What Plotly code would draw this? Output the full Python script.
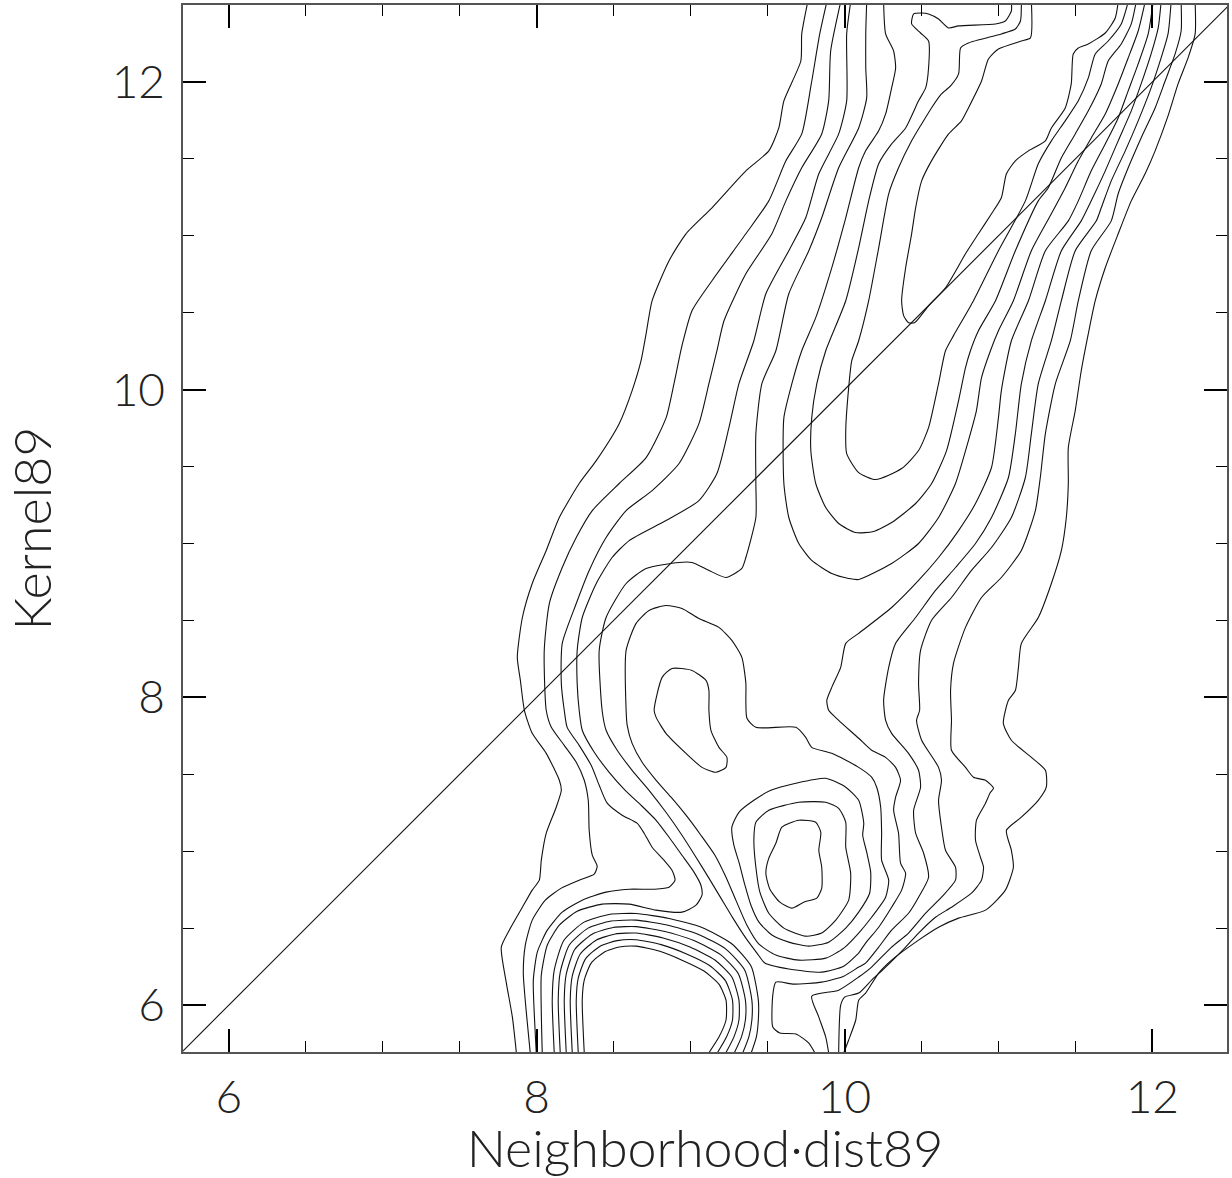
import plotly.graph_objects as go

X_RANGE = [5.702, 12.485]
Y_RANGE = [5.695, 12.50]
MAJOR_TICKS = [6, 8, 10, 12]
X_TITLE = "Neighborhood·dist89"
Y_TITLE = "Kernel89"
DIAGONAL = [5.5, 12.7]

# contour polylines, (x, y) in data units
L1_LEFT = [(7.868,5.69),(7.842,5.922),(7.803,6.143),(7.770,6.377),(7.822,6.487),(7.907,6.636),(7.971,6.747),
           (8.017,6.812),(8.030,6.942),(8.062,7.117),(8.127,7.286),(8.160,7.396),(8.147,7.461),(8.062,7.636),
           (7.971,7.766),(7.920,7.916),(7.894,8.110),(7.874,8.260),(7.907,8.519),(7.971,8.740),(8.062,8.955),
           (8.147,9.169),(8.276,9.390),(8.387,9.539),(8.536,9.779),(8.620,9.994),(8.678,10.188),(8.711,10.364),
           (8.750,10.578),(8.860,10.838),(8.970,11.013),(9.139,11.182),(9.359,11.422),(9.508,11.552),
           (9.573,11.701),(9.606,11.877),(9.716,12.136),(9.722,12.312),(9.761,12.52)]
L1_RIGHT = [(12.278,12.52),(12.278,12.312),(12.232,12.156),(12.167,11.987),(12.102,11.779),(12.018,11.552),
            (11.953,11.403),(11.863,11.227),(11.778,11.013),(11.694,10.792),(11.629,10.578),(11.584,10.364),
            (11.538,10.123),(11.499,9.864),(11.454,9.623),(11.454,9.390),(11.441,9.169),(11.409,8.955),
            (11.344,8.740),(11.259,8.519),(11.149,8.351),(11.130,8.195),(11.110,8.045),(11.065,7.981),
            (11.032,7.831),(11.084,7.721),(11.214,7.610),(11.305,7.526),(11.311,7.416),(11.259,7.331),
            (11.149,7.221),(11.052,7.136),(11.084,7.006),(11.097,6.896),(11.045,6.747),(10.916,6.617),
            (10.741,6.565),(10.611,6.506),(10.481,6.422),(10.306,6.292),(10.222,6.208),(10.137,6.078),
            (10.092,6.032),(10.073,5.903),(10.027,5.773),(9.995,5.69)]
L2_LEFT = [(9.885,12.52),(9.839,12.312),(9.784,11.987),(9.722,11.662),(9.619,11.487),(9.508,11.227),
           (9.359,11.013),(9.139,10.708),(9.009,10.513),(8.944,10.286),(8.892,10.039),(8.841,9.818),
           (8.711,9.558),(8.536,9.390),(8.361,9.214),(8.257,9.039),(8.166,8.844),(8.082,8.610),(8.049,8.305),
           (8.062,7.916),(8.095,7.805),(8.179,7.688),(8.257,7.578),(8.309,7.461),(8.335,7.331),(8.341,7.136),
           (8.361,6.974),(8.393,6.903),(8.374,6.851),(8.276,6.812),(8.160,6.760),(8.056,6.682),(7.971,6.552),
           (7.926,6.390),(7.913,6.208),(7.933,5.948),(7.958,5.69)]
L3_LEFT = [(9.975,12.52),(9.910,12.201),(9.897,11.877),(9.852,11.662),(9.722,11.442),(9.619,11.227),
           (9.528,11.013),(9.359,10.753),(9.217,10.448),(9.171,10.253),(9.119,10.039),(9.054,9.779),
           (8.925,9.520),(8.750,9.344),(8.581,9.214),(8.451,9.039),(8.341,8.825),(8.257,8.610),(8.166,8.351),
           (8.160,8.091),(8.179,7.916),(8.198,7.805),(8.276,7.688),(8.354,7.558),(8.406,7.429),(8.458,7.312),
           (8.555,7.234),(8.652,7.182),(8.698,7.117),(8.750,7.026),(8.827,6.942),(8.879,6.877),(8.899,6.812),
           (8.860,6.766),(8.763,6.753),(8.601,6.753),(8.451,6.734),(8.296,6.682),(8.166,6.604),(8.069,6.487),
           (8.004,6.344),(7.978,6.162),(7.984,5.948),(7.997,5.69)]
L4_LEFT = [(10.040,12.52),(10.014,12.312),(10.014,11.877),(9.962,11.662),(9.833,11.403),(9.748,11.117),
           (9.638,10.903),(9.489,10.623),(9.411,10.318),(9.314,10.039),(9.249,9.753),(9.171,9.455),
           (9.054,9.279),(8.840,9.149),(8.601,9.019),(8.490,8.909),(8.387,8.740),(8.296,8.519),(8.263,8.305),
           (8.263,8.091),(8.276,7.916),(8.296,7.786),(8.374,7.643),(8.471,7.513),(8.575,7.396),(8.678,7.299),
           (8.776,7.201),(8.860,7.091),(8.944,6.974),(9.022,6.864),(9.067,6.779),(9.074,6.714),(9.035,6.649),
           (8.944,6.604),(8.776,6.617),(8.601,6.656),(8.425,6.656),(8.263,6.610),(8.147,6.519),(8.069,6.390),
           (8.030,6.195),(8.030,5.948),(8.036,5.69)]
L5_LEFT = [(10.144,12.52),(10.138,12.312),(10.138,12.091),(10.144,11.896),(10.092,11.701),(9.962,11.442),
           (9.852,11.117),(9.768,10.903),(9.638,10.623),(9.554,10.253),(9.463,10.039),(9.424,9.714),
           (9.424,9.390),(9.424,9.169),(9.359,8.909),(9.333,8.838),(9.230,8.779),(9.119,8.825),(9.009,8.877),
           (8.925,8.877),(8.711,8.838),(8.581,8.740),(8.451,8.519),(8.406,8.305),(8.425,7.916),(8.451,7.786),
           (8.523,7.656),(8.620,7.526),(8.730,7.396),(8.840,7.253),(8.944,7.104),(9.035,6.961),(9.119,6.825),
           (9.197,6.695),(9.275,6.565),(9.359,6.435),(9.431,6.338),(9.482,6.273),(9.638,6.234),(9.852,6.214),
           (9.995,6.253),(10.092,6.338)]
L6_TOP = [(10.254,12.52),(10.267,12.312),(10.319,12.201),(10.332,12.091),(10.306,11.961),(10.267,11.792),
          (10.222,11.682),(10.137,11.552),(10.092,11.442),(10.008,11.117),(9.917,10.792),(9.813,10.468),
          (9.722,10.253),(9.658,10.039),(9.606,9.818),(9.606,9.390),(9.638,9.169),(9.703,9.000),(9.787,8.890),
          (9.917,8.805),(10.027,8.773),(10.092,8.766),(10.306,8.870),(10.481,9.000),(10.611,9.169),
          (10.721,9.390),(10.805,9.669),(10.857,9.864),(10.890,10.078),(10.948,10.253),(11.000,10.383),
          (11.097,10.578),(11.214,10.903),(11.344,11.143),(11.434,11.312),(11.519,11.487),(11.603,11.636),
          (11.694,11.792),(11.778,11.987),(11.843,12.156),(11.908,12.331),(11.953,12.52)]
L6_LOOP = [(8.581,7.916),(8.581,8.305),(8.646,8.481),(8.730,8.565),(8.840,8.597),(8.944,8.578),(9.054,8.513),
           (9.184,8.455),(9.268,8.370),(9.333,8.260),(9.359,8.091),(9.359,7.981),(9.366,7.864),(9.424,7.805),
           (9.684,7.805),(9.748,7.740),(9.787,7.675),(9.917,7.636),(10.092,7.545),(10.176,7.481),(10.209,7.416),
           (10.235,7.286),(10.241,7.117),(10.241,6.942),(10.287,6.812),(10.267,6.701),(10.176,6.571),
           (10.092,6.468),(9.995,6.370),(9.878,6.305),(9.703,6.292),(9.554,6.325),(9.444,6.396),(9.366,6.519),
           (9.294,6.682),(9.230,6.831),(9.158,6.974),(9.067,7.104),(8.970,7.234),(8.873,7.351),(8.776,7.461),
           (8.685,7.578),(8.620,7.701),(8.588,7.818),(8.581,7.916)]
L7_TOP = [(11.084,12.52),(11.084,12.461),(11.045,12.396),(10.981,12.377),(10.741,12.364),(10.676,12.351),
          (10.611,12.409),(10.546,12.442),(10.501,12.448),(10.449,12.442),(10.436,12.377),(10.494,12.318),
          (10.546,12.266),(10.546,12.091),(10.527,11.961),(10.481,11.877),(10.397,11.701),(10.306,11.597),
          (10.222,11.468),(10.157,11.227),(10.092,10.922),(10.008,10.578),(9.878,10.253),(9.820,10.039),
          (9.787,9.818),(9.781,9.604),(9.813,9.390),(9.878,9.234),(9.962,9.130),(10.073,9.071),(10.189,9.078),
          (10.306,9.136),(10.462,9.260),(10.566,9.390),(10.663,9.604),(10.741,9.929),(10.786,10.143),
          (10.818,10.253),(10.870,10.383),(10.981,10.578),(11.110,10.903),(11.259,11.227),(11.324,11.312),
          (11.409,11.507),(11.499,11.662),(11.584,11.812),(11.668,11.987),(11.713,12.136),(11.798,12.247),
          (11.863,12.377),(11.895,12.52)]
L7_LOOP_A = [(8.763,7.916),(8.815,8.130),(8.879,8.188),(9.009,8.175),(9.100,8.110),(9.119,8.045),(9.119,7.916),
             (9.132,7.786),(9.184,7.675),(9.236,7.610),(9.230,7.545),(9.165,7.513),(9.074,7.545),(8.970,7.636),
             (8.840,7.766),(8.776,7.870),(8.763,7.916)]
L7_LOOP_B = [(9.268,7.156),(9.314,7.253),(9.411,7.331),(9.521,7.396),(9.684,7.442),(9.878,7.474),(10.008,7.416),
             (10.092,7.331),(10.125,7.182),(10.118,7.104),(10.144,6.994),(10.170,6.864),(10.163,6.727),
             (10.092,6.604),(10.008,6.500),(9.897,6.409),(9.768,6.383),(9.638,6.409),(9.528,6.455),(9.444,6.539),
             (9.392,6.649),(9.353,6.779),(9.314,6.929),(9.281,7.039),(9.268,7.156)]
L8_TOP = [(11.149,12.52),(11.143,12.396),(11.110,12.344),(11.019,12.312),(10.805,12.253),(10.754,12.221),
          (10.741,12.052),(10.689,11.974),(10.630,11.922),(10.565,11.831),(10.501,11.727),(10.436,11.617),
          (10.351,11.442),(10.287,11.273),(10.222,10.922),(10.157,10.578),(10.092,10.318),(10.047,10.188),
          (10.027,10.013),(10.008,9.734),(10.014,9.584),(10.092,9.461),(10.202,9.416),(10.371,9.487),
          (10.481,9.604),(10.546,9.753),(10.611,10.039),(10.656,10.253),(10.708,10.351),(10.838,10.578),
          (11.000,10.903),(11.175,11.227),(11.259,11.468),(11.344,11.617),(11.434,11.747),(11.519,11.877),
          (11.584,12.026),(11.629,12.182),(11.713,12.266),(11.798,12.377),(11.843,12.52)]
L8_LOOP = [(9.424,7.188),(9.508,7.266),(9.703,7.318),(9.878,7.318),(9.962,7.279),(10.008,7.188),(10.008,7.026),
           (10.040,6.857),(10.027,6.682),(9.943,6.552),(9.852,6.468),(9.748,6.448),(9.606,6.500),(9.508,6.597),
           (9.450,6.734),(9.424,6.896),(9.411,7.071),(9.424,7.188)]
L9_TOP = [(11.214,12.52),(11.208,12.286),(11.149,12.266),(11.000,12.214),(10.935,12.149),(10.890,12.006),
          (10.805,11.831),(10.760,11.747),(10.676,11.662),(10.565,11.487),(10.501,11.357),(10.462,11.182),
          (10.436,11.013),(10.397,10.792),(10.371,10.578),(10.384,10.481),(10.416,10.435),(10.455,10.435),
          (10.546,10.545),(10.656,10.662),(10.786,10.883),(10.870,11.013),(10.955,11.143),(11.019,11.247),
          (11.052,11.403),(11.110,11.487),(11.195,11.552),(11.305,11.617),(11.344,11.701),(11.434,11.831),
          (11.473,11.987),(11.486,12.182),(11.519,12.221),(11.584,12.247),(11.694,12.318),(11.759,12.416),
          (11.778,12.52)]
L9_LOOP = [(9.593,7.156),(9.703,7.201),(9.813,7.188),(9.846,7.123),(9.833,7.006),(9.852,6.896),(9.852,6.760),
           (9.820,6.695),(9.735,6.669),(9.658,6.630),(9.580,6.669),(9.515,6.753),(9.489,6.857),(9.508,6.955),
           (9.554,7.052),(9.593,7.156)]
L5_RIGHT = [(12.005,12.52),(11.973,12.312),(11.908,12.117),(11.843,11.942),(11.778,11.766),(11.694,11.597),
            (11.603,11.422),(11.519,11.227),(11.454,11.097),(11.305,10.903),(11.195,10.578),(11.084,10.318),
            (11.019,9.994),(11.000,9.818),(10.955,9.494),(10.851,9.260),(10.741,9.084),(10.611,8.909),
            (10.481,8.760),(10.306,8.584),(10.092,8.416),(10.008,8.351),(9.975,8.195),(9.917,8.065),
            (9.885,7.981),(9.897,7.916),(9.962,7.851),(10.092,7.734),(10.176,7.656),(10.267,7.610),
            (10.332,7.545),(10.364,7.461),(10.332,7.351),(10.319,7.266),(10.351,7.117),(10.364,6.922),
            (10.397,6.857),(10.371,6.747),(10.306,6.636),(10.222,6.506),(10.137,6.403),(10.092,6.338)]
L4_RIGHT = [(12.057,12.52),(12.038,12.351),(11.992,12.182),(11.927,11.987),(11.863,11.812),(11.778,11.617),
            (11.694,11.422),(11.603,11.227),(11.538,11.097),(11.409,10.903),(11.305,10.578),(11.214,10.318),
            (11.149,10.039),(11.110,9.714),(11.065,9.429),(10.955,9.169),(10.851,9.000),(10.721,8.844),
            (10.591,8.695),(10.462,8.519),(10.332,8.351),(10.287,8.195),(10.254,7.981),(10.267,7.851),
            (10.306,7.766),(10.416,7.636),(10.481,7.526),(10.494,7.416),(10.449,7.266),(10.462,7.117),
            (10.514,6.987),(10.546,6.831),(10.481,6.701),(10.416,6.597),(10.306,6.487),(10.222,6.377),
            (10.137,6.273),(10.092,6.247),(9.995,6.188),(9.852,6.149),(9.671,6.136),(9.554,6.149),(9.534,6.065),
            (9.534,5.857),(9.580,5.818),(9.684,5.812),(9.768,5.753),(9.807,5.69)]
L3_RIGHT = [(12.122,12.52),(12.102,12.312),(12.057,12.156),(11.992,11.961),(11.908,11.747),(11.824,11.552),
            (11.733,11.357),(11.668,11.182),(11.636,11.097),(11.499,10.903),(11.409,10.578),(11.344,10.318),
            (11.259,10.039),(11.214,9.714),(11.175,9.429),(11.084,9.169),(10.955,8.974),(10.825,8.825),
            (10.695,8.649),(10.565,8.500),(10.494,8.305),(10.481,8.091),(10.488,7.916),(10.468,7.851),
            (10.501,7.721),(10.611,7.545),(10.630,7.461),(10.611,7.331),(10.630,7.156),(10.656,7.006),
            (10.721,6.896),(10.721,6.812),(10.630,6.701),(10.527,6.597),(10.416,6.468),(10.306,6.377),
            (10.176,6.247),(10.092,6.182),(9.962,6.097),(9.787,6.058),(9.833,5.922),(9.878,5.792),(9.897,5.69)]
L2_RIGHT = [(12.187,12.52),(12.187,12.331),(12.148,12.182),(12.083,12.006),(12.018,11.831),(11.927,11.636),
            (11.843,11.442),(11.778,11.273),(11.733,11.097),(11.603,10.903),(11.519,10.578),(11.467,10.318),
            (11.370,10.039),(11.305,9.714),(11.272,9.429),(11.240,9.214),(11.149,8.955),(11.019,8.779),
            (10.890,8.649),(10.786,8.455),(10.708,8.221),(10.689,8.045),(10.695,7.851),(10.695,7.656),
            (10.786,7.545),(10.838,7.481),(10.916,7.461),(10.968,7.409),(10.948,7.383),(10.916,7.312),
            (10.857,7.201),(10.851,7.071),(10.883,6.961),(10.903,6.896),(10.890,6.812),(10.825,6.727),
            (10.695,6.636),(10.591,6.571),(10.481,6.468),(10.397,6.377),(10.267,6.247),(10.176,6.162),
            (10.092,6.078),(10.001,6.052),(9.975,6.000),(9.962,5.69)]
# nested arcs of the bump at the bottom edge (outer to inner)
ARC_1 = [(8.114,5.69),(8.101,6.032),(8.114,6.227),(8.176,6.420),(8.308,6.539),(8.471,6.589),(8.646,6.595),
         (8.860,6.563),(9.074,6.504),(9.265,6.400),(9.394,6.250),(9.440,6.032),(9.440,5.903),(9.427,5.792),(9.394,5.69)]
ARC_2 = [(8.153,5.69),(8.140,6.032),(8.153,6.214),(8.212,6.390),(8.334,6.500),(8.484,6.546),(8.646,6.552),
         (8.847,6.520),(9.048,6.461),(9.229,6.364),(9.352,6.227),(9.398,6.032),(9.398,5.903),(9.378,5.792),(9.339,5.69)]
ARC_3 = [(8.192,5.69),(8.179,6.032),(8.192,6.201),(8.247,6.361),(8.360,6.461),(8.497,6.504),(8.646,6.510),
         (8.834,6.478),(9.022,6.419),(9.194,6.328),(9.310,6.204),(9.356,6.032),(9.356,5.903),(9.330,5.792),(9.284,5.69)]
ARC_4 = [(8.231,5.69),(8.218,6.032),(8.231,6.188),(8.283,6.332),(8.386,6.422),(8.510,6.462),(8.646,6.468),
         (8.821,6.436),(8.996,6.377),(9.158,6.293),(9.268,6.182),(9.314,6.032),(9.314,5.903),(9.281,5.792),(9.229,5.69)]
ARC_5 = [(8.270,5.69),(8.257,6.032),(8.270,6.175),(8.318,6.302),(8.412,6.383),(8.523,6.419),(8.646,6.425),
         (8.808,6.393),(8.970,6.334),(9.123,6.257),(9.226,6.159),(9.272,6.032),(9.272,5.903),(9.233,5.792),(9.174,5.69)]
ARC_6 = [(8.309,5.69),(8.296,6.032),(8.309,6.162),(8.354,6.273),(8.438,6.344),(8.536,6.377),(8.646,6.383),
         (8.795,6.351),(8.944,6.292),(9.087,6.221),(9.184,6.136),(9.230,6.032),(9.230,5.903),(9.184,5.792),(9.119,5.69)]

CONTOURS = [L1_LEFT, L1_RIGHT, L2_LEFT, L3_LEFT, L4_LEFT, L5_LEFT, L6_TOP, L6_LOOP, L7_TOP, L7_LOOP_A,
            L7_LOOP_B, L8_TOP, L8_LOOP, L9_TOP, L9_LOOP, L5_RIGHT, L4_RIGHT, L3_RIGHT, L2_RIGHT,
            ARC_1, ARC_2, ARC_3, ARC_4, ARC_5, ARC_6]

FONT = "Lato"
LINE_COLOR = "#111111"
TEXT_COLOR = "#222222"

fig = go.Figure()
for c in CONTOURS:
    fig.add_trace(go.Scatter(x=[p[0] for p in c], y=[p[1] for p in c], mode="lines",
                             line=dict(color=LINE_COLOR, width=1.1, shape="spline", smoothing=0.6),
                             hoverinfo="skip", showlegend=False))
fig.add_trace(go.Scatter(x=DIAGONAL, y=DIAGONAL, mode="lines",
                         line=dict(color=LINE_COLOR, width=1.1), hoverinfo="skip", showlegend=False))

axis_common = dict(
    tickvals=MAJOR_TICKS, ticks="inside", ticklen=23, tickwidth=2, tickcolor="black",
    minor=dict(dtick=0.5, tick0=6, ticks="inside", ticklen=11, tickwidth=1.2, tickcolor="black"),
    showline=True, linecolor="#555555", linewidth=1.5, mirror="allticks",
    showgrid=False, zeroline=False,
    tickfont=dict(family=FONT, size=46, color=TEXT_COLOR, weight=300),
)
fig.update_layout(
    width=1232, height=1178,
    margin=dict(l=183, r=3, t=4, b=126),
    paper_bgcolor="white", plot_bgcolor="white",
    xaxis=dict(range=X_RANGE, title=dict(text=X_TITLE, font=dict(family=FONT, size=52, color=TEXT_COLOR, weight=300), standoff=8),
               ticklabelstandoff=4, **axis_common),
    yaxis=dict(range=Y_RANGE, title=dict(text=Y_TITLE, font=dict(family=FONT, size=52, color=TEXT_COLOR, weight=300), standoff=43),
               ticklabelstandoff=7, **axis_common),
)
fig.write_html("out.html")
